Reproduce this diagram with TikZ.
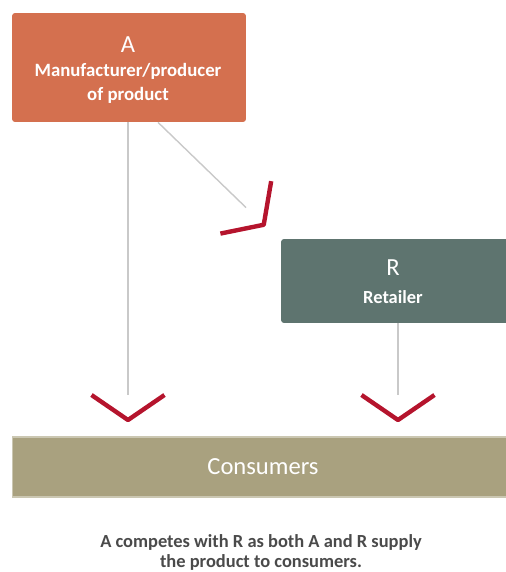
\documentclass[tikz,border=0pt]{standalone}
\usepackage{fontspec}
\setmainfont{Carlito}
\usetikzlibrary{calc,decorations.markings}

\definecolor{mfgred}{HTML}{D4704F}
\definecolor{retgreen}{HTML}{5E746F}
\definecolor{consbeige}{HTML}{A9A17F}
\definecolor{chevred}{HTML}{B5142D}
\definecolor{linegray}{HTML}{C9C9C9}
\definecolor{captiongray}{HTML}{4A4A4A}

\tikzset{
    party/.style={rounded corners=0.06cm, text=white, align=center, inner sep=0pt},
    flow/.style={draw=linegray, line width=0.8pt, shorten >=0.5cm,
        postaction={decorate},
        decoration={markings, mark=at position 1 with {
            \draw[chevred, line width=2.5pt, line join=round, shorten >=0pt, shorten <=0pt]
                (-0.5cm,0.73cm) -- (0,0) -- (-0.5cm,-0.73cm);}}},
}

\begin{document}
\begin{tikzpicture}[x=0.02cm, y=-0.02cm]
        % Page frame
        \useasboundingbox (0,0) rectangle (505,572);

        % The three parties
        \node[party, fill=mfgred, minimum width=4.68cm, minimum height=2.18cm] (A) at (129,67.5) {};
        \node[text=white, font=\fontsize{14}{16}\selectfont] (Atitle) at (128,45) {A};
        \node[text=white, align=center, font=\bfseries\fontsize{10.7}{13.7}\selectfont] (Adesc) at (128,83) {Manufacturer/producer\\of product};

        \node[party, fill=retgreen, minimum width=4.68cm, minimum height=1.68cm] (R) at (398,281) {};
        \node[text=white, font=\fontsize{14}{16}\selectfont] (Rtitle) at (393,268) {R};
        \node[text=white, font=\bfseries\fontsize{10.5}{13}\selectfont] (Rdesc) at (393,297) {Retailer};

        \node[fill=consbeige, draw=consbeige!60!white, line width=0.6pt, minimum width=10.06cm, minimum height=1.2cm] (C) at (263.5,467) {};
        \node[text=white, font=\fontsize{14}{16}\selectfont] (Ctext) at (263,467) {Consumers};

        % Supply lines with chevrons
        \coordinate (tipA) at (128,420);
        \coordinate (tipD) at (264,225);
        \coordinate (tipR) at (398,420);
        \draw[flow] (A.south -| tipA) -- (tipA);
        \draw[flow] ($(A.south)+(29,0)$) -- (tipD);
        \draw[flow] (R.south) -- (tipR);

        % Caption
        \node[text=captiongray, align=center, font=\bfseries\fontsize{10.5}{11.4}\selectfont] (cap) at (261,552) {A competes with R as both A and R supply\\the product to consumers.};
\end{tikzpicture}
\end{document}
